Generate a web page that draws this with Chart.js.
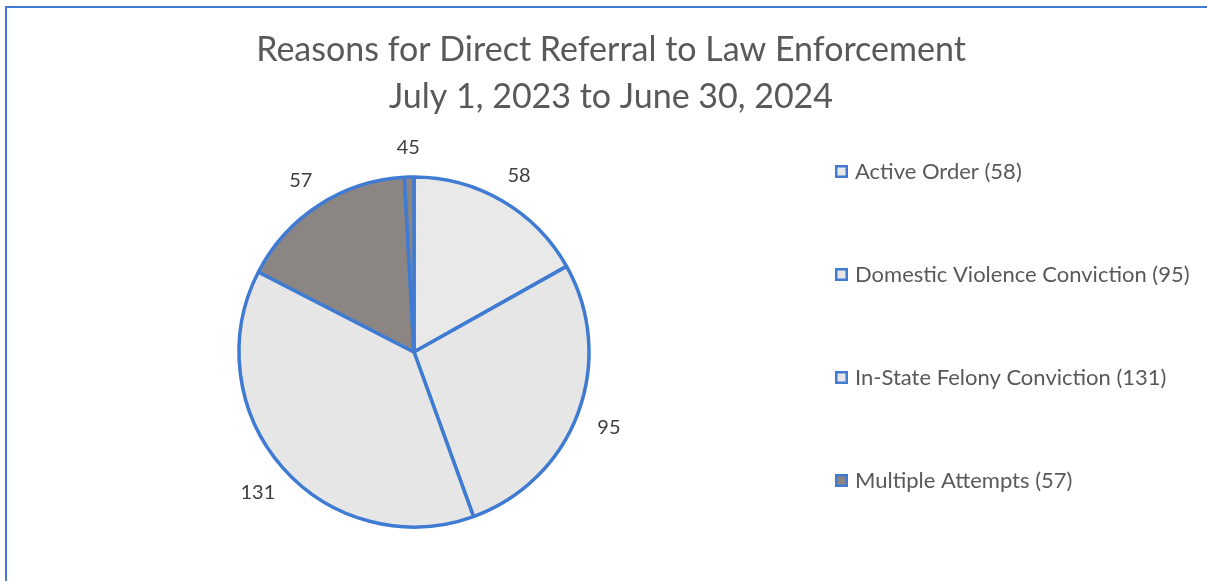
<!DOCTYPE html>
<html>
<head>
<meta charset="utf-8">
<script src="https://cdn.jsdelivr.net/npm/chart.js@4/dist/chart.umd.min.js"></script>
<style>
html,body{margin:0;padding:0;background:#fff;}
#wrap{width:1207px;height:581px;position:relative;}
</style>
</head>
<body>
<div id="wrap"><canvas id="c" width="1207" height="581"></canvas></div>
<script>
const titleLines = ['Reasons for Direct Referral to Law Enforcement', 'July 1, 2023 to June 30, 2024'];
const categories = ['Active Order (58)', 'Domestic Violence Conviction (95)', 'In-State Felony Conviction (131)', 'Multiple Attempts (57)', ''];
const values = [58, 95, 131, 57, 3];
const valueLabels = ['58', '95', '131', '57', '45'];
const legendCount = 4;
const sliceColors = ['#e9e9e9', '#e6e6e6', '#e6e6e6', '#8b8684', '#8b8684'];
const BLUE = '#3f7bd2';
const FONT = 'Lato, "Open Sans", sans-serif';

const framePlugin = {
  id: 'frame',
  beforeDraw(chart) {
    const ctx = chart.ctx;
    ctx.save();
    ctx.fillStyle = '#fff';
    ctx.fillRect(0, 0, chart.width, chart.height);
    ctx.strokeStyle = BLUE;
    ctx.lineWidth = 2;
    ctx.beginPath();
    ctx.moveTo(6, chart.height + 5);
    ctx.lineTo(6, 7);
    ctx.lineTo(chart.width + 5, 7);
    ctx.stroke();
    // title
    ctx.fillStyle = '#595959';
    ctx.font = '34px ' + FONT;
    ctx.textAlign = 'center';
    ctx.textBaseline = 'middle';
    ctx.fillText(titleLines[0], 611, 50);
    ctx.fillText(titleLines[1], 611, 97);
    ctx.restore();
  }
};

const labelPlugin = {
  id: 'extras',
  afterDatasetsDraw(chart) {
    const ctx = chart.ctx;
    const meta = chart.getDatasetMeta(0);
    ctx.save();
    ctx.font = '20px ' + FONT;
    ctx.fillStyle = '#404040';
    ctx.textAlign = 'center';
    ctx.textBaseline = 'middle';
    meta.data.forEach((arc, i) => {
      const p = arc.getProps(['x', 'y', 'startAngle', 'endAngle', 'outerRadius'], true);
      const a = (p.startAngle + p.endAngle) / 2;
      const r = p.outerRadius + 33;
      ctx.fillText(valueLabels[i], p.x + Math.cos(a) * r, p.y + Math.sin(a) * r + 3);
    });
    // legend
    const lx = 835, ly0 = 171, step = 103;
    ctx.textAlign = 'left';
    ctx.font = '22px ' + FONT;
    for (let i = 0; i < legendCount; i++) {
      const y = ly0 + i * step;
      ctx.fillStyle = sliceColors[i];
      ctx.fillRect(lx, y - 6, 13, 13);
      ctx.strokeStyle = BLUE;
      ctx.lineWidth = 2.5;
      ctx.strokeRect(lx + 1.25, y - 4.75, 10.5, 10.5);
      ctx.fillStyle = '#595959';
      ctx.fillText(chart.data.labels[i], lx + 20, y + 1);
    }
    ctx.restore();
  }
};

new Chart(document.getElementById('c'), {
  type: 'pie',
  data: {
    labels: categories,
    datasets: [{
      data: values,
      backgroundColor: sliceColors,
      borderColor: BLUE,
      borderWidth: 3.5,
      hoverOffset: 0,
      radius: 175
    }]
  },
  options: {
    responsive: false,
    animation: false,
    events: [],
    layout: { padding: { left: 200, right: 1207 - 628, top: 130, bottom: 581 - 574 } },
    plugins: {
      legend: { display: false },
      title: { display: false },
      tooltip: { enabled: false }
    }
  },
  plugins: [framePlugin, labelPlugin]
});
</script>
</body>
</html>
